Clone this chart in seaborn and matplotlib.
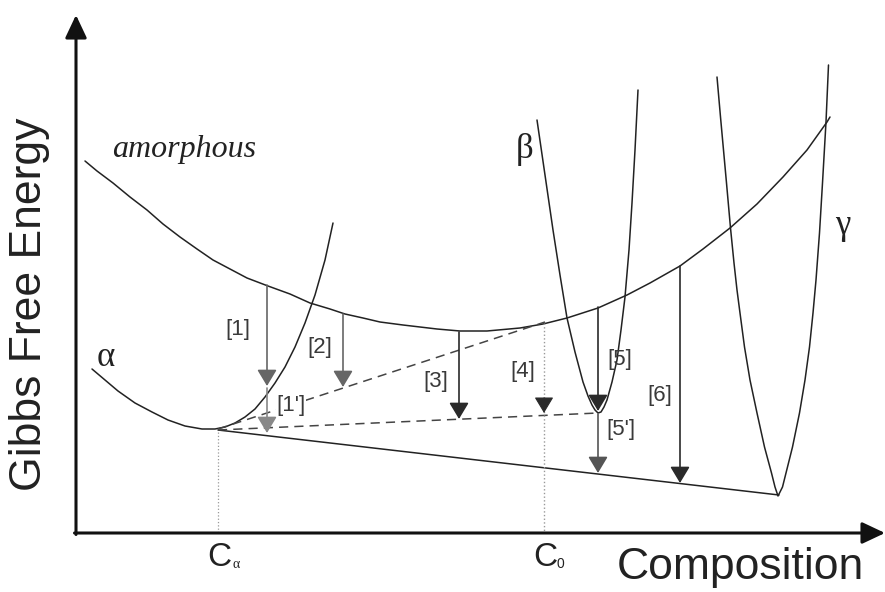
import numpy as np
import pandas as pd
import matplotlib
matplotlib.use("Agg")
import matplotlib.pyplot as plt
import seaborn as sns

# ---- data (schematic, pixel-like coordinates) ----
amorph_x = [85, 97, 113, 130, 147, 163, 180, 197, 213, 230, 247, 268, 290, 310, 330, 345, 363,
            380, 403, 437, 460, 487, 520, 543, 567, 598, 627, 650, 680, 703, 730, 757, 783, 807, 827, 830]
amorph_y = [161, 171, 183, 197, 210, 224, 237, 249, 260, 269, 278, 286, 294, 303, 309, 314, 318,
            322, 325, 329, 331, 331, 328, 324, 318, 308, 295, 283, 266, 249, 228, 204, 177, 150, 122, 117]

alpha_x = [92, 105, 118, 135, 152, 168, 185, 202, 215, 225, 235, 245, 255, 265, 275, 285, 295, 305, 315, 325, 333]
alpha_y = [369, 380, 391, 403, 412, 420, 426, 429, 429, 427, 423, 417, 409, 397, 383, 367, 347, 323, 295, 260, 223]

beta_x = [537, 545, 553, 560, 567, 575, 583, 588, 592, 595, 598, 601, 604, 607, 612, 617, 621, 625, 629, 632, 635, 638]
beta_y = [120, 175, 230, 275, 318, 352, 382, 396, 405, 410, 413, 412, 407, 400, 382, 360, 330, 297, 250, 203, 150, 90]

gamma_x = [717, 720.5, 723.5, 726.5, 730.5, 734, 737, 740, 744.5, 750, 757, 764.5, 771.5, 775, 778,
           782.5, 786, 792.5, 799.5, 805, 809.5, 813, 816, 819.5, 822.5, 826, 828.5]
gamma_y = [77, 117, 150, 183, 228, 263, 290, 313, 347, 380, 413, 447, 473, 487, 496,
           487, 473, 447, 413, 380, 347, 313, 280, 233, 183, 122, 65]

tangent_x = [218, 779]          # common tangent alpha-gamma (solid)
tangent_y = [430, 495]
dash_ab_x = [218, 598]          # alpha-beta (dashed)
dash_ab_y = [430, 413]
dash_aa_x = [218, 545]          # alpha-amorphous (dashed)
dash_aa_y = [429, 322]

arrow_x   = [267, 267, 343, 459, 598, 598, 680]
arrow_y0  = [285, 388, 314, 332, 307, 414, 266]
arrow_y1  = [386, 433, 387, 419, 411, 473, 483]
arrow_col = ["#666666", "#888888", "#666666", "#2a2a2a", "#2a2a2a", "#555555", "#2a2a2a"]

label_text = ["[1]", "[2]", "[1']", "[3]", "[4]", "[5]", "[5']", "[6]"]
label_x    = [238, 320, 291, 436, 523, 620, 621, 660]
label_y    = [330, 347, 405, 381, 372, 360, 429, 395]

c_alpha_x, c_zero_x = 218, 544
axis_origin = (76, 533)
axis_x_end, axis_y_end = 885, 15

sns.set_theme(style="white")
plt.rcParams["font.family"] = ["Liberation Sans", "DejaVu Sans"]

fig = plt.figure(figsize=(8.85, 5.92), dpi=100)
ax = fig.add_axes([0, 0, 1, 1])
ax.set_xlim(0, 885)
ax.set_ylim(592, 0)
ax.axis("off")

lc = "#222222"
for xs, ys in [(amorph_x, amorph_y), (alpha_x, alpha_y), (beta_x, beta_y), (gamma_x, gamma_y)]:
    sns.lineplot(x=xs, y=ys, sort=False, estimator=None, color=lc, lw=1.1, ax=ax)

sns.lineplot(x=tangent_x, y=tangent_y, sort=False, estimator=None, color=lc, lw=1.1, ax=ax)
for xs, ys in [(dash_ab_x, dash_ab_y), (dash_aa_x, dash_aa_y)]:
    ax.plot(xs, ys, color="#444444", lw=1.1, dashes=(6, 4))

# dotted composition markers
ax.plot([c_alpha_x, c_alpha_x], [432, axis_origin[1]], color="#999999", lw=0.9, ls=":")
ax.plot([c_zero_x, c_zero_x], [323, axis_origin[1]], color="#999999", lw=1.0, ls=":")

head = "-|>,head_length=0.5,head_width=0.3"
for x, y0, y1, c in zip(arrow_x, arrow_y0, arrow_y1, arrow_col):
    ax.annotate("", xy=(x, y1), xytext=(x, y0),
                arrowprops=dict(arrowstyle=head, color=c, lw=1.2, shrinkA=0, shrinkB=0,
                                mutation_scale=20))
ax.annotate("", xy=(c_zero_x, 413), xytext=(c_zero_x, 398),
            arrowprops=dict(arrowstyle=head, color="#2a2a2a", lw=0.8, shrinkA=0, shrinkB=0,
                            mutation_scale=20))

for t, x, y in zip(label_text, label_x, label_y):
    kw = {}
    if t == "[1']":
        kw["bbox"] = dict(facecolor="white", edgecolor="none", pad=0.5)
    ax.text(x, y, t, ha="center", va="center", fontsize=16, color="#3a3a3a", **kw)

# axes arrows
ax_head = "-|>,head_length=0.7,head_width=0.33"
ax.annotate("", xy=(axis_origin[0], axis_y_end), xytext=(axis_origin[0], axis_origin[1] + 1.5),
            arrowprops=dict(arrowstyle=ax_head, color="#111111", lw=2.2, shrinkA=0, shrinkB=0,
                            mutation_scale=20))
ax.annotate("", xy=(axis_x_end, axis_origin[1]), xytext=(axis_origin[0] - 1.5, axis_origin[1]),
            arrowprops=dict(arrowstyle=ax_head, color="#111111", lw=2.2, shrinkA=0, shrinkB=0,
                            mutation_scale=20))

ax.text(30, 304, "Gibbs Free Energy", rotation=90, ha="center", va="center",
        fontsize=32, color="#222222")
ax.text(740, 568, "Composition", ha="center", va="center", fontsize=32, color="#222222")

ax.text(219, 558, "C", ha="center", va="center", fontsize=24, color="#222222")
ax.text(236, 565, "α", ha="center", va="center", fontsize=10, color="#222222",
        family=["Liberation Serif", "DejaVu Serif"])
ax.text(545, 558, "C", ha="center", va="center", fontsize=24, color="#222222")
ax.text(560, 564, "0", ha="center", va="center", fontsize=10, color="#222222")

serif = ["Liberation Serif", "DejaVu Serif"]
ax.text(184, 150, "amorphous", ha="center", va="center", fontsize=23, style="italic",
        color="#222222", family=serif)
ax.text(106, 358, "α", ha="center", va="center", fontsize=25, color="#222222", family=serif)
ax.text(525, 150, "β", ha="center", va="center", fontsize=25, color="#222222", family=serif)
ax.text(843, 225, "γ", ha="center", va="center", fontsize=25, color="#222222", family=serif)

fig.savefig("out.png", dpi=100, facecolor="white")
